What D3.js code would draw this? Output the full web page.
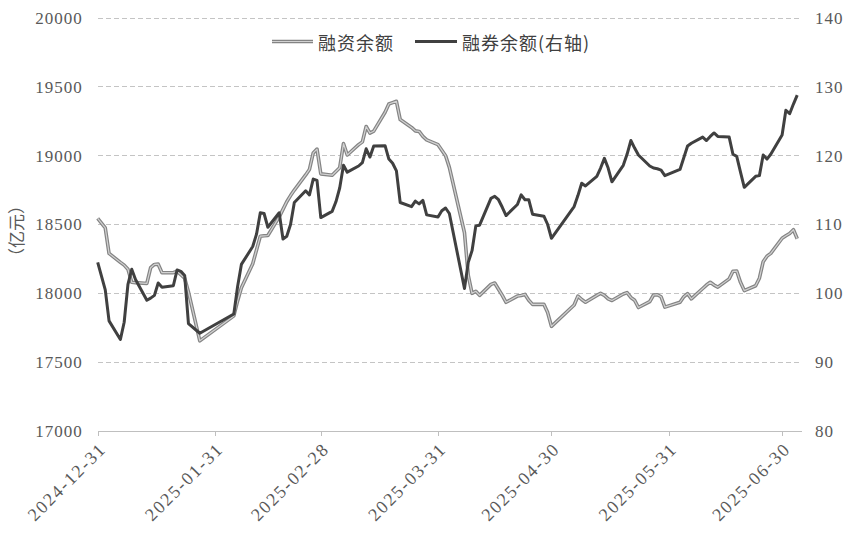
<!DOCTYPE html>
<html><head><meta charset="utf-8">
<script src="https://cdn.jsdelivr.net/npm/d3@7"></script>
<style>
html,body{margin:0;padding:0;background:#fff;}
svg{display:block;}
</style></head><body>
<svg id="chart" width="849" height="534"></svg>
<script>
// ---------------- data ----------------
const dates = [
 "2024-12-31",
 "2025-01-02","2025-01-03","2025-01-06","2025-01-07","2025-01-08","2025-01-09","2025-01-10",
 "2025-01-13","2025-01-14","2025-01-15","2025-01-16","2025-01-17","2025-01-20","2025-01-21",
 "2025-01-22","2025-01-23","2025-01-24","2025-01-27",
 "2025-02-05","2025-02-06","2025-02-07","2025-02-10","2025-02-11","2025-02-12","2025-02-13",
 "2025-02-14","2025-02-17","2025-02-18","2025-02-19","2025-02-20","2025-02-21","2025-02-24",
 "2025-02-25","2025-02-26","2025-02-27","2025-02-28",
 "2025-03-03","2025-03-04","2025-03-05","2025-03-06","2025-03-07","2025-03-10","2025-03-11",
 "2025-03-12","2025-03-13","2025-03-14","2025-03-17","2025-03-18","2025-03-19","2025-03-20",
 "2025-03-21","2025-03-24","2025-03-25","2025-03-26","2025-03-27","2025-03-28","2025-03-31",
 "2025-04-01","2025-04-02","2025-04-03","2025-04-07","2025-04-08","2025-04-09","2025-04-10",
 "2025-04-11","2025-04-14","2025-04-15","2025-04-16","2025-04-17","2025-04-18","2025-04-21",
 "2025-04-22","2025-04-23","2025-04-24","2025-04-25","2025-04-28","2025-04-29","2025-04-30",
 "2025-05-06","2025-05-07","2025-05-08","2025-05-09","2025-05-12","2025-05-13","2025-05-14",
 "2025-05-15","2025-05-16","2025-05-19","2025-05-20","2025-05-21","2025-05-22","2025-05-23",
 "2025-05-26","2025-05-27","2025-05-28","2025-05-29","2025-05-30",
 "2025-06-03","2025-06-04","2025-06-05","2025-06-06","2025-06-09","2025-06-10","2025-06-11",
 "2025-06-12","2025-06-13","2025-06-16","2025-06-17","2025-06-18","2025-06-19","2025-06-20",
 "2025-06-23","2025-06-24","2025-06-25","2025-06-26","2025-06-27","2025-06-30",
 "2025-07-01","2025-07-02","2025-07-03","2025-07-04"
];

// 融资余额 (亿元, left axis)
const financing = [
 18545,
 18475,18290,18225,18205,18175,18080,18078,18072,18186,18210,18212,18150,18150,18160,18135,18110,18010,17655,
 17836,17945,18040,18215,18315,18415,18418,18420,18555,18610,18665,18710,18750,18860,18900,19020,19048,18868,
 18858,18885,18912,19088,19005,19080,19100,19212,19164,19178,19315,19375,19385,19395,19262,19205,19180,19176,19140,19115,19080,
 19040,19000,18915,18440,18130,18000,18015,17985,18065,18075,18030,17985,17935,17980,17985,17992,17950,17920,17920,17860,17760,
 17915,17980,17955,17935,17985,18000,17985,17960,17948,17995,18005,17970,17950,17897,17940,17988,17990,17975,17900,
 17935,17975,17998,17960,18035,18060,18080,18060,18045,18105,18160,18162,18080,18020,18055,18110,18230,18270,18290,18400,
 18418,18435,18462,18397
];

// 融券余额 (亿元, right axis)
const securitiesLending = [
 104.5,
 100.5,96.0,93.3,95.8,101.3,103.5,102.0,99.0,99.3,99.7,101.5,100.9,101.1,103.4,103.2,102.6,95.6,94.2,
 97.0,101.0,104.2,106.8,108.6,111.7,111.6,109.6,111.7,107.9,108.3,110.0,113.2,114.9,114.3,116.6,116.4,111.0,
 111.9,113.3,115.3,118.6,117.6,118.5,119.0,121.0,119.8,121.4,121.45,119.5,118.9,117.8,113.2,112.6,113.4,113.0,113.5,111.4,111.1,
 112.0,112.4,111.6,100.7,104.5,106.2,109.8,109.9,113.8,114.1,113.6,112.5,111.3,112.9,114.3,113.6,113.6,111.5,111.2,110.0,108.0,
 112.6,114.2,116.0,115.6,117.0,118.2,119.6,118.2,116.2,118.6,120.2,122.2,121.1,120.1,118.5,118.2,118.1,117.9,117.1,
 118.0,119.7,121.4,121.8,122.7,122.2,122.8,123.3,122.8,122.7,120.2,119.9,117.6,115.4,117.0,117.1,120.1,119.5,120.2,123.0,
 126.6,126.1,127.5,128.8
];

const seriesNames = ["融资余额", "融券余额(右轴)"];
const leftTicks = [17000,17500,18000,18500,19000,19500,20000];
const rightTicks = [80,90,100,110,120,130,140];
const xTickLabels = ["2024-12-31","2025-01-31","2025-02-28","2025-03-31","2025-04-30","2025-05-31","2025-06-30"];
const xDomain = ["2024-12-31","2025-07-05"];
const yTitle = "（亿元）";

// ---------------- drawing ----------------
const parse = d3.timeParse("%Y-%m-%d");
const svg = d3.select("#chart");
const L = 97.7, R = 801, T = 18, B = 431;

const x = d3.scaleTime().domain(xDomain.map(parse)).range([L, R]);
const yL = d3.scaleLinear().domain([17000, 20000]).range([B, T]);
const yR = d3.scaleLinear().domain([80, 140]).range([B, T]);

const numFont = "'Liberation Serif', 'DejaVu Serif', serif";
const cjkFont = "'Noto Sans CJK SC', 'Noto Sans', sans-serif";
const tickColor = "#595959";

// gridlines
svg.append("g").selectAll("line").data(leftTicks.filter(v => v !== 17000)).join("line")
  .attr("x1", L).attr("x2", R)
  .attr("y1", d => yL(d)).attr("y2", d => yL(d))
  .attr("stroke", "#c4c4c4").attr("stroke-width", 1)
  .attr("stroke-dasharray", "5,3")
  .attr("shape-rendering", "crispEdges");

// bottom axis
const xAxis = d3.axisBottom(x)
  .tickValues(xTickLabels.map(parse))
  .tickSize(5).tickSizeOuter(0)
  .tickFormat(d3.timeFormat("%Y-%m-%d"));
const gx = svg.append("g").attr("transform", `translate(0,${B})`).call(xAxis);
gx.select(".domain").attr("stroke", "#bfbfbf").attr("shape-rendering", "crispEdges");
gx.selectAll(".tick line").attr("stroke", "#bfbfbf").attr("shape-rendering", "crispEdges");
gx.selectAll(".tick text")
  .attr("fill", tickColor)
  .style("font-family", numFont).style("font-size", "18px").style("letter-spacing", "1.8px")
  .attr("text-anchor", "end")
  .attr("dy", null).attr("y", null)
  .attr("transform", "translate(9,19) rotate(-45)");

// left axis
const gl = svg.append("g").attr("transform", `translate(${L},0)`)
  .call(d3.axisLeft(yL).tickValues(leftTicks).tickSize(0).tickPadding(15).tickFormat(d3.format("d")));
gl.select(".domain").remove();
gl.selectAll(".tick text").attr("fill", tickColor)
  .style("font-family", numFont).style("font-size", "17px").style("letter-spacing", "1px");

// right axis
const gr = svg.append("g").attr("transform", `translate(${R},0)`)
  .call(d3.axisRight(yR).tickValues(rightTicks).tickSize(0).tickPadding(14).tickFormat(d3.format("d")));
gr.select(".domain").remove();
gr.selectAll(".tick text").attr("fill", tickColor)
  .style("font-family", numFont).style("font-size", "17px").style("letter-spacing", "1px");

// y title
svg.append("text").text(yTitle)
  .attr("transform", "translate(15,231) rotate(-90)")
  .attr("text-anchor", "middle").attr("dominant-baseline", "central")
  .attr("fill", tickColor)
  .style("font-family", cjkFont).style("font-size", "17px");

// lines
const finData = dates.map((d, i) => ({ d: parse(d), v: financing[i] }));
const slData = dates.map((d, i) => ({ d: parse(d), v: securitiesLending[i] }));
const lineL = d3.line().x(p => x(p.d)).y(p => yL(p.v));
const lineR = d3.line().x(p => x(p.d)).y(p => yR(p.v));

svg.append("path").attr("d", lineL(finData)).attr("fill", "none")
  .attr("stroke", "#848484").attr("stroke-width", 3.6).attr("stroke-linejoin", "round");
svg.append("path").attr("d", lineL(finData)).attr("fill", "none")
  .attr("stroke", "#d2d2d2").attr("stroke-width", 1.2).attr("stroke-linejoin", "round");
svg.append("path").attr("d", lineR(slData)).attr("fill", "none")
  .attr("stroke", "#404040").attr("stroke-width", 3).attr("stroke-linejoin", "round");

// legend
const lg = svg.append("g");
const legY = 41.5;
lg.append("line").attr("x1", 272).attr("x2", 313).attr("y1", legY).attr("y2", legY)
  .attr("stroke", "#848484").attr("stroke-width", 3.6);
lg.append("line").attr("x1", 272).attr("x2", 313).attr("y1", legY).attr("y2", legY)
  .attr("stroke", "#d2d2d2").attr("stroke-width", 1.2);
lg.append("text").text(seriesNames[0]).attr("x", 318).attr("y", legY)
  .attr("dominant-baseline", "central").attr("fill", "#404040")
  .style("font-family", cjkFont).style("font-size", "18px").style("letter-spacing", "1px");
lg.append("line").attr("x1", 415).attr("x2", 457).attr("y1", legY).attr("y2", legY)
  .attr("stroke", "#404040").attr("stroke-width", 3);
lg.append("text").text(seriesNames[1]).attr("x", 462).attr("y", legY)
  .attr("dominant-baseline", "central").attr("fill", "#404040")
  .style("font-family", cjkFont).style("font-size", "18px").style("letter-spacing", "1px");
</script>
</body></html>
